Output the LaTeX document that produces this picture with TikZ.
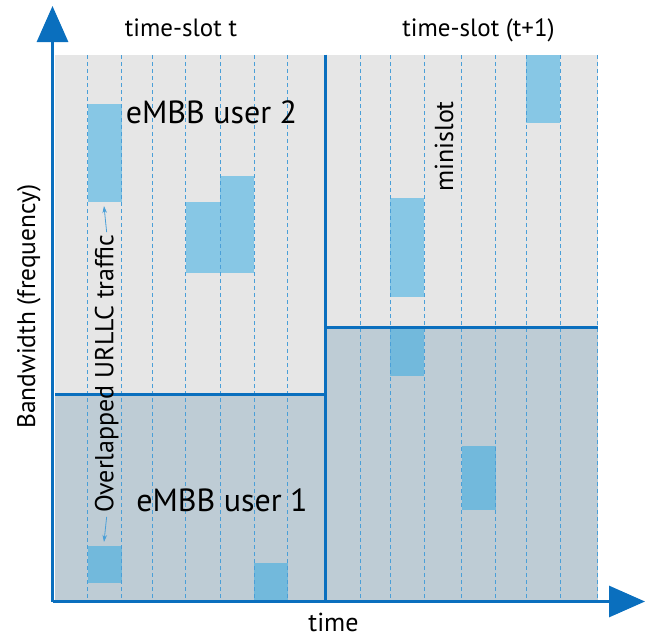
\documentclass[tikz,border=0pt]{standalone}
\usepackage{fontspec}
\setmainfont{PT Sans}
\usetikzlibrary{arrows.meta}
\definecolor{axisblue}{HTML}{0A6FBE}
\definecolor{gridblue}{HTML}{4A9FD8}
\definecolor{lightgrey}{HTML}{E6E6E6}
\definecolor{darkgrey}{HTML}{BECCD5}
\definecolor{boxlight}{HTML}{87C7E5}
\definecolor{boxdark}{HTML}{72B9DC}
\tikzset{
  axisline/.style={draw=axisblue, line width=3pt, -{Triangle[length=36pt,width=31pt]}},
  divline/.style={draw=axisblue, line width=3pt},
  gridline/.style={draw=gridblue, line width=1pt, dash pattern=on 4pt off 3pt},
  smallarrow/.style={draw=gridblue, line width=0.8pt, -{Stealth[length=7pt,width=4.5pt]}},
  lbl/.style={inner sep=0pt, anchor=base, font=\fontsize{25}{29}\selectfont},
  biglbl/.style={inner sep=0pt, anchor=base, font=\fontsize{32}{36}\selectfont},
}
\begin{document}
\begin{tikzpicture}[x=1pt,y=-1pt]
\useasboundingbox (0,0) rectangle (654,637);
% regions
\fill[lightgrey] (55,54.5) rectangle (325,394);
\fill[darkgrey] (55,394) rectangle (325,601);
\fill[lightgrey] (325,54.5) rectangle (598,327);
\fill[darkgrey] (325,327) rectangle (598,601);
% resource blocks
\fill[boxlight] (87.7,104) rectangle (121.7,202);
\fill[boxlight] (185.7,202) rectangle (220,273);
\fill[boxlight] (220,176) rectangle (254,273);
\fill[boxdark] (87.7,545.7) rectangle (121.7,583);
\fill[boxdark] (254,563) rectangle (287.7,601);
\fill[boxlight] (526,55) rectangle (560,123);
\fill[boxlight] (390,198) rectangle (424,297);
\fill[boxdark] (390,327) rectangle (424,376);
\fill[boxdark] (461.7,445.7) rectangle (495.7,510);
% minislot grid
\foreach \x in {87.7,121.7,152.3,185.7,220,254,287.7,360,390,424,461.7,495.7,526,560,597.7}
  \draw[gridline] (\x,55) -- (\x,600);
% slot boundaries
\coordinate (dtop) at (325,54.5);
\coordinate (dbot) at (325,601);
\coordinate (l1) at (55,394);
\coordinate (l2) at (325,394);
\coordinate (r1) at (325,327);
\coordinate (r2) at (598,327);
\draw[divline] (dtop) -- (dbot);
\draw[divline] (l1) -- (l2);
\draw[divline] (r1) -- (r2);
% axes
\coordinate (O) at (52.5,601.5);
\coordinate (ytip) at (52.5,6);
\coordinate (xtip) at (645,601.5);
\draw[axisline] (O) -- (ytip);
\draw[axisline] (O) -- (xtip);
% labels
\node[lbl] (ts1) at (181,36.7) {time-slot t};
\node[lbl] (ts2) at (478.5,36.5) {time-slot (t+1)};
\node[lbl, font=\fontsize{26}{30}\selectfont] (tm) at (333.5,631) {time};
\node[lbl, rotate=90, font=\fontsize{25.4}{30}\selectfont] (bw) at (35,306.5) {Bandwidth (frequency)};
\node[lbl, rotate=90, font=\fontsize{26}{30}\selectfont] (ms) at (453,146.5) {minislot};
\node[biglbl] (u2) at (211.5,123.3) {eMBB user 2};
\node[biglbl] (u1) at (222,511.7) {eMBB user 1};
\node[lbl, rotate=90, font=\fontsize{26}{30}\selectfont] (ur) at (113.3,373.5) {Overlapped URLLC traffic};
\coordinate (urtop) at (104,206);
\coordinate (urbot) at (104,542);
\draw[smallarrow] (ur.east) ++(0,-2) -- (urtop);
\draw[smallarrow] (ur.west) ++(0,4) -- (urbot);
\end{tikzpicture}
\end{document}
